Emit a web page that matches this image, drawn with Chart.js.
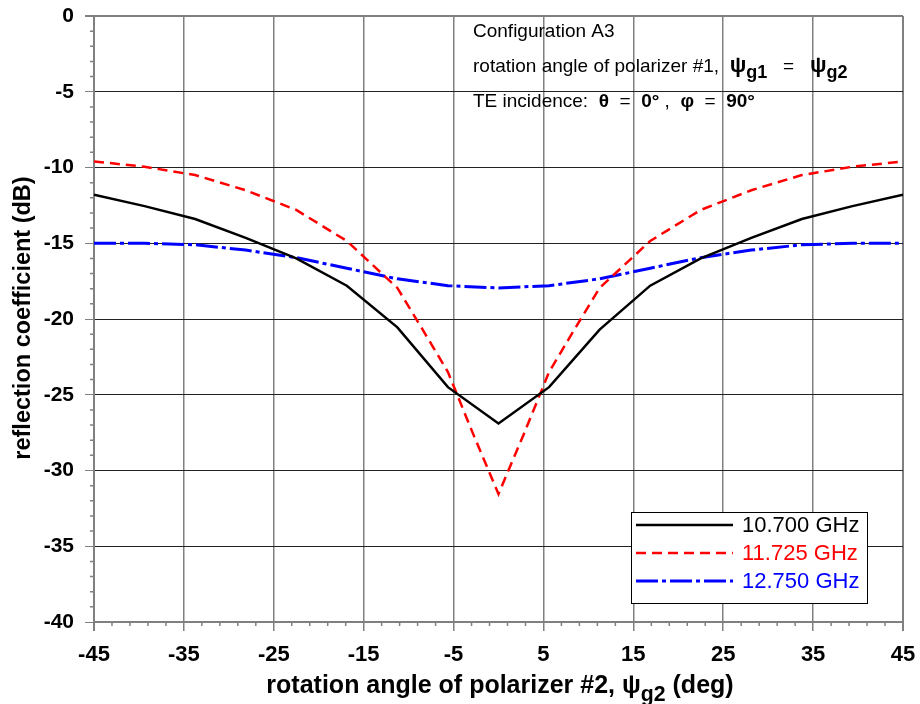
<!DOCTYPE html>
<html>
<head>
<meta charset="utf-8">
<script src="https://cdn.jsdelivr.net/npm/chart.js@4/dist/chart.umd.min.js"></script>
<style>
  body { margin: 0; background: #fff; }
</style>
</head>
<body>
<canvas id="grafico" width="920" height="704"></canvas>
<script>
// angulos de rotacao (deg)
const angles = [-45, -39.375, -33.75, -28.125, -22.5, -16.875, -11.25, -5.625, 0, 5.625, 11.25, 16.875, 22.5, 28.125, 33.75, 39.375, 45];
const anglesRed = [-45, -39.375, -33.75, -28.125, -22.5, -16.875, -11.25, -8.4375, -5.625, -2.8125, 0, 2.8125, 5.625, 8.4375, 11.25, 16.875, 22.5, 28.125, 33.75, 39.375, 45];

// coeficiente de reflexao (dB)
const ghz10700 = [-11.8, -12.55, -13.4, -14.65, -16.0, -17.8, -20.55, -24.5, -26.9, -24.5, -20.7, -17.8, -16.0, -14.65, -13.4, -12.55, -11.8];
const ghz11725 = [-9.6, -9.95, -10.5, -11.5, -12.8, -14.85, -17.95, -20.7, -23.5, -27.6, -31.55, -27.6, -23.5, -20.7, -17.95, -14.85, -12.8, -11.5, -10.5, -9.95, -9.6];
const ghz12750 = [-15.0, -15.0, -15.1, -15.45, -15.95, -16.65, -17.35, -17.8, -17.95, -17.8, -17.35, -16.65, -15.95, -15.45, -15.1, -15.0, -15.0];

const xTicks = [-45, -35, -25, -15, -5, 5, 15, 25, 35, 45];
const seriesNames = ['10.700 GHz', '11.725 GHz', '12.750 GHz'];

const FONTE = '"Liberation Sans", Arial, sans-serif';
const CINZA = '#808080';

function pares(xs, ys) {
  return xs.map((x, i) => ({ x: x, y: ys[i] }));
}

// escreve texto com subscritos (p.s = tamanho proprio, p.sub = desce)
function textoRico(ctx, partes, x, y, size, weight, align) {
  const fonte = p => (p.sub || p.b ? 'bold ' : weight + ' ') + (p.s || (p.sub ? size * 0.85 : size)) + 'px ' + FONTE;
  const larguras = partes.map(p => {
    ctx.font = fonte(p);
    return ctx.measureText(p.t).width;
  });
  const total = larguras.reduce((a, b) => a + b, 0);
  let cx = align === 'center' ? x - total / 2 : x;
  partes.forEach((p, i) => {
    ctx.font = fonte(p);
    ctx.fillText(p.t, cx, p.sub ? y + size * 0.3 : y);
    cx += larguras[i];
  });
}

const extras = {
  id: 'extras',
  afterDraw(chart) {
    const ctx = chart.ctx;
    const xs = chart.scales.x, ys = chart.scales.y;
    const area = chart.chartArea;
    ctx.save();

    // ticks menores
    ctx.strokeStyle = CINZA;
    ctx.lineWidth = 1.5;
    ctx.beginPath();
    for (let v = -43; v < 45; v += 2) {
      if ((v + 45) % 10 === 0) continue;
      const px = xs.getPixelForValue(v);
      ctx.moveTo(px, area.bottom);
      ctx.lineTo(px, area.bottom + 4);
    }
    for (let v = -39; v < 0; v += 1) {
      if (v % 5 === 0) continue;
      const py = ys.getPixelForValue(v);
      ctx.moveTo(area.left - 4, py);
      ctx.lineTo(area.left, py);
    }
    ctx.stroke();

    // anotacoes
    ctx.fillStyle = '#000';
    ctx.textBaseline = 'alphabetic';
    ctx.textAlign = 'left';
    textoRico(ctx, [{ t: 'Configuration A3' }], 473, 37, 19, 'normal', 'left');
    textoRico(ctx, [{ t: 'rotation angle of polarizer #1,  ' }, { t: '\u03c8', b: true, s: 22 }, { t: 'g1', sub: true, s: 18 }, { t: '   =   ' }, { t: '\u03c8', b: true, s: 22 }, { t: 'g2', sub: true, s: 18 }], 473, 72, 19, 'normal', 'left');
    textoRico(ctx, [{ t: 'TE incidence:  ' }, { t: '\u03b8', b: true }, { t: '  =  ' }, { t: '0\u00b0', b: true }, { t: ' ,  ' }, { t: '\u03c6', b: true }, { t: '  =  ' }, { t: '90\u00b0', b: true }], 473, 107, 19, 'normal', 'left');

    // legenda
    ctx.fillStyle = '#fff';
    ctx.fillRect(631, 512, 237, 92);
    ctx.strokeStyle = '#000';
    ctx.lineWidth = 1;
    ctx.strokeRect(631.5, 512.5, 236, 91);
    chart.data.datasets.forEach((ds, i) => {
      const ly = 525 + i * 28;
      ctx.strokeStyle = ds.borderColor;
      ctx.lineWidth = ds.borderWidth;
      ctx.setLineDash(ds.borderDash || []);
      ctx.beginPath();
      ctx.moveTo(636, ly);
      ctx.lineTo(733, ly);
      ctx.stroke();
      ctx.setLineDash([]);
      ctx.fillStyle = ds.borderColor;
      ctx.font = '22px ' + FONTE;
      ctx.textBaseline = 'middle';
      ctx.fillText(seriesNames[i], 742, ly + 1);
    });

    // titulos dos eixos
    ctx.fillStyle = '#000';
    ctx.textBaseline = 'alphabetic';
    textoRico(ctx, [{ t: 'rotation angle of polarizer #2, \u03c8' }, { t: 'g2', sub: true }, { t: ' (deg)' }], 500, 693, 25, 'bold', 'center');

    ctx.translate(30, 318);
    ctx.rotate(-Math.PI / 2);
    ctx.font = 'bold 23.5px ' + FONTE;
    ctx.textAlign = 'center';
    ctx.fillText('reflection coefficient (dB)', 0, 0);
    ctx.restore();
  }
};

const grafico = document.getElementById('grafico');

new Chart(grafico, {
  type: 'line',
  data: {
    datasets: [
      {
        label: seriesNames[0],
        data: pares(angles, ghz10700),
        borderColor: '#000000',
        borderWidth: 2.5,
        pointRadius: 0,
        tension: 0
      },
      {
        label: seriesNames[1],
        data: pares(anglesRed, ghz11725),
        borderColor: '#ff0000',
        borderWidth: 2.5,
        borderDash: [10, 6],
        pointRadius: 0,
        tension: 0
      },
      {
        label: seriesNames[2],
        data: pares(angles, ghz12750),
        borderColor: '#0000ff',
        borderWidth: 3,
        borderDash: [22, 4, 4, 4],
        pointRadius: 0,
        tension: 0
      }
    ]
  },
  options: {
    responsive: false,
    animation: false,
    devicePixelRatio: 1,
    layout: { padding: { top: 16, right: 17, left: 0, bottom: 0 } },
    plugins: {
      legend: { display: false },
      tooltip: { enabled: false }
    },
    scales: {
      x: {
        type: 'linear',
        min: -45,
        max: 45,
        afterBuildTicks: s => { s.ticks = xTicks.map(v => ({ value: v })); },
        afterFit: s => { s.height = 82; s.paddingLeft = 0; s.paddingRight = 0; },
        grid: {
          color: CINZA,
          lineWidth: c => (c.tick && Math.abs(c.tick.value) === 45) ? 2 : 1.5,
          tickLength: 9,
          tickColor: CINZA
        },
        border: { color: CINZA, width: 2 },
        ticks: {
          color: '#000',
          font: { family: FONTE, size: 22, weight: 'bold' },
          padding: 11,
          maxRotation: 0,
          autoSkip: false
        }
      },
      y: {
        min: -40,
        max: 0,
        afterFit: s => { s.width = 94; s.paddingTop = 0; s.paddingBottom = 0; },
        grid: {
          color: c => (c.tick && c.tick.value === 0) ? CINZA : '#222',
          lineWidth: c => (c.tick && c.tick.value === 0) ? 2 : 1,
          tickLength: 9,
          tickColor: CINZA
        },
        border: { color: CINZA, width: 2 },
        ticks: {
          stepSize: 5,
          color: '#000',
          font: { family: FONTE, size: 21, weight: 'bold' },
          padding: 11
        }
      }
    }
  },
  plugins: [extras]
});
</script>
</body>
</html>
